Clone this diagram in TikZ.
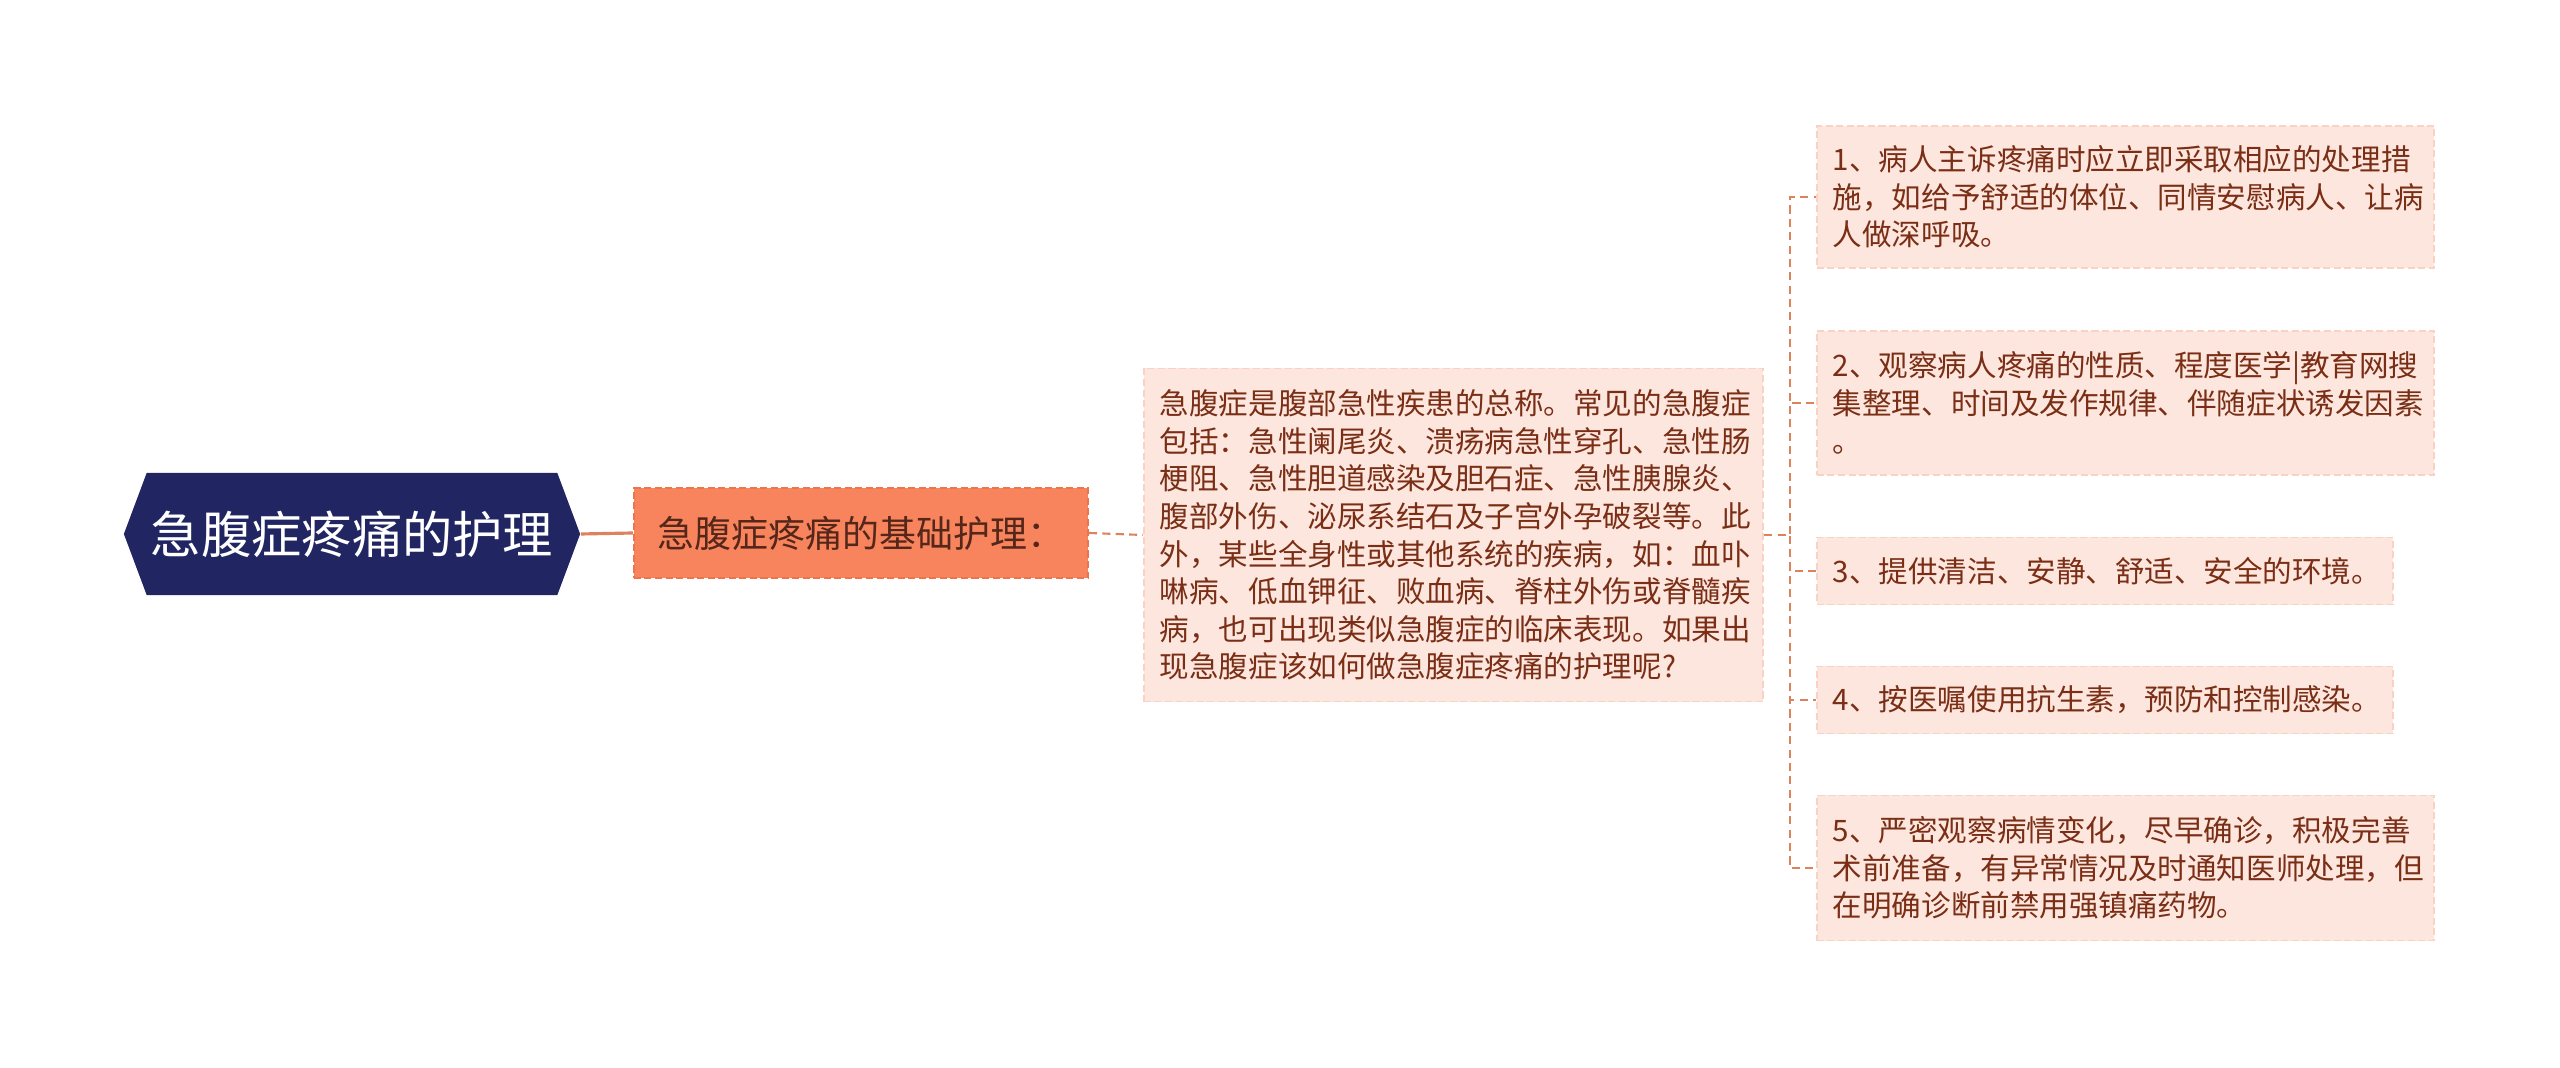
\documentclass[tikz,border=0pt]{standalone}
\usepackage{fontspec}
\newfontfamily\cjk{Noto Sans CJK SC}
\usetikzlibrary{shapes.symbols}
\definecolor{navy}{HTML}{212663}
\definecolor{coral}{HTML}{F7845C}
\definecolor{coraledge}{HTML}{EE7449}
\definecolor{blush}{HTML}{FDE6DD}
\definecolor{blushedge}{HTML}{F8D2C4}
\definecolor{linkcol}{HTML}{DC825C}
\definecolor{rust}{HTML}{7A2E16}
\definecolor{umber}{HTML}{55261A}

\begin{document}
\begin{tikzpicture}[x=0.01cm,y=-0.01cm,
    topic/.style={signal, signal to=west and east, signal pointer angle=139,
      fill=navy, text=white, inner sep=0pt, minimum width=4.56cm, minimum height=1.22cm,
      font=\cjk\fontsize{14.3pt}{17pt}\selectfont},
    basicbox/.style={fill=coral, draw=coraledge, dash pattern=on 2pt off 1pt, line width=0.5pt,
      text=umber, inner sep=0pt, minimum width=4.54cm, minimum height=0.9cm,
      font=\cjk\fontsize{10.5pt}{13pt}\selectfont},
    notebox/.style={fill=blush, draw=blushedge, dash pattern=on 2pt off 1pt, line width=0.5pt,
      text=rust, align=left, inner xsep=0.16cm, inner ysep=0pt, anchor=west,
      font=\cjk\fontsize{8.4pt}{10.7pt}\selectfont},
    trunk/.style={draw=linkcol, line width=0.9pt},
    link/.style={draw=linkcol, line width=0.6pt, dash pattern=on 2.3pt off 1.5pt}]
  \useasboundingbox (0,0) rectangle (2560,1068);
  % root and first level
  \node [topic] (root) at (352,534) {急腹症疼痛的护理};
  \node [basicbox] (basic) at (861,533) {急腹症疼痛的基础护理：};
  \node [notebox, text width=5.87cm, minimum height=3.33cm, inner xsep=0.16cm] (intro) at (1143,535)
    {急腹症是腹部急性疾患的总称。常见的急腹症\\包括：急性阑尾炎、溃疡病急性穿孔、急性肠\\梗阻、急性胆道感染及胆石症、急性胰腺炎、\\腹部外伤、泌尿系结石及子宫外孕破裂等。此\\外，某些全身性或其他系统的疾病，如：血卟\\啉病、低血钾征、败血病、脊柱外伤或脊髓疾\\病，也可出现类似急腹症的临床表现。如果出\\现急腹症该如何做急腹症疼痛的护理呢?};
  % care steps
  \node [notebox, text width=5.85cm, minimum height=1.42cm] (care1) at (1816,197)
    {1、病人主诉疼痛时应立即采取相应的处理措\\施，如给予舒适的体位、同情安慰病人、让病\\人做深呼吸。};
  \node [notebox, text width=5.85cm, minimum height=1.44cm] (care2) at (1816,403)
    {2、观察病人疼痛的性质、程度医学|教育网搜\\集整理、时间及发作规律、伴随症状诱发因素\\。};
  \node [notebox, text width=5.44cm, minimum height=0.67cm] (care3) at (1816,571)
    {3、提供清洁、安静、舒适、安全的环境。};
  \node [notebox, text width=5.44cm, minimum height=0.67cm] (care4) at (1816,700)
    {4、按医嘱使用抗生素，预防和控制感染。};
  \node [notebox, text width=5.85cm, minimum height=1.45cm] (care5) at (1816,868)
    {5、严密观察病情变化，尽早确诊，积极完善\\术前准备，有异常情况及时通知医师处理，但\\在明确诊断前禁用强镇痛药物。};
  % connectors
  \draw [trunk] (root.east) -- (basic.west);
  \draw [link] (basic.east) -- (intro.west);
  \foreach \i in {1,...,5}
    \draw [link] (intro.east) -- ++(26,0) |- (care\i.west);
\end{tikzpicture}
\end{document}
